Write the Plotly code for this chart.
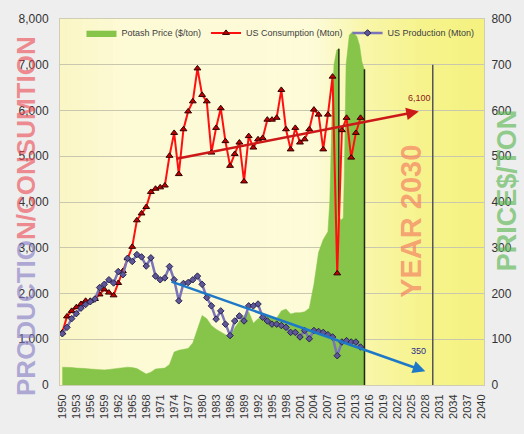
import plotly.graph_objects as go

# ---------------- data ----------------
years = list(range(1950, 2015))
consumption = [1150, 1500, 1620, 1700, 1770, 1840, 1840, 1880, 1980, 2090,
               2020, 1960, 2230, 2490, 2770, 3020, 3600, 3750, 3890, 4220,
               4290, 4320, 4360, 5010, 5510, 4610, 5590, 5980, 6200, 6920,
               6340, 6200, 5080, 5620, 6050, 5330, 4790, 5050, 5300, 4450,
               5440, 5190, 5370, 5400, 5800, 5800, 5840, 6450, 5590, 5150,
               5620, 5300, 5370, 5590, 6020, 5910, 5150, 5910, 6740, 2440,
               5570, 5840, 4970, 5510, 5840]
production = [1120, 1260, 1450, 1560, 1680, 1760, 1820, 1880, 2130, 2200,
              2300, 2230, 2480, 2410, 2770, 2700, 2850, 2800, 2600, 2780,
              2380, 2300, 2340, 2590, 2300, 1840, 2220, 2240, 2300, 2380,
              2200, 1910, 1730, 1440, 1620, 1330, 1080, 1400, 1510, 1400,
              1730, 1730, 1770, 1480, 1400, 1330, 1330, 1300, 1260, 1150,
              1150, 1050, 1190, 1010, 1190, 1170, 1150, 1100, 1050, 640,
              940, 970, 940, 940, 830]

price_years = list(range(1950, 2007)) + [2007, 2007.4, 2007.9, 2008.3, 2008.9, 2009.3,
                                         2009.35, 2009.8, 2010.3, 2010.5, 2010.9, 2011.6,
                                         2012.3, 2013.2, 2013.8, 2014.3, 2014.8, 2014.85]
price_values = [39, 39, 38, 37, 37, 36, 35, 34, 33, 33,
                34, 35, 36, 37, 39, 38, 36, 30, 24, 28,
                35, 36, 37, 45, 72, 76, 78, 80, 92, 120,
                152, 145, 130, 122, 116, 110, 106, 125, 140, 152,
                160, 135, 145, 148, 152, 147, 146, 162, 166, 155,
                158, 158, 160, 168, 220, 290, 318] + \
               [335, 400, 600, 700, 732, 735,
                370, 360, 365, 450, 700, 765,
                772, 762, 742, 706, 690, 0]

cons_trend_years = [1974.2, 2026.5]
cons_trend_values = [4940, 5980]
cons_trend_label = "6,100"
prod_trend_years = [1973.1, 2027.9]
prod_trend_values = [2270, 300]
prod_trend_label = "350"
horizon_year = 2029.5
horizon_top = 7000

x_ticks = list(range(1950, 2041, 3))
y_ticks = list(range(0, 8001, 1000))
price_ticks = list(range(0, 801, 100))

# ---------------- figure ----------------
fig = go.Figure()

# price on the base axis (drawn underneath), right side
fig.add_trace(go.Scatter(
    x=price_years, y=price_values, yaxis="y", name="Potash Price ($/ton)",
    mode="lines", fill="tozeroy", fillcolor="#86C44A",
    line=dict(color="#86C44A", width=0.5), showlegend=True))

# dark edges where the price area jumps almost vertically
ex, ey = [], []
for i in range(1, len(price_years)):
    if price_years[i] - price_years[i - 1] < 0.1 and abs(price_values[i] - price_values[i - 1]) > 300:
        ex += [price_years[i], price_years[i], None]
        ey += [min(price_values[i], price_values[i - 1]), max(price_values[i], price_values[i - 1]), None]
fig.add_trace(go.Scatter(x=ex, y=ey, yaxis="y", mode="lines",
                         line=dict(color="#1E2A12", width=1.5),
                         showlegend=False, hoverinfo="skip"))

fig.add_trace(go.Scatter(
    x=years, y=consumption, yaxis="y2", name="US Consumption (Mton)", mode="lines+markers",
    line=dict(color="#FF1010", width=2),
    marker=dict(symbol="triangle-up", size=6, color="#C00000",
                line=dict(color="#300000", width=1))))

fig.add_trace(go.Scatter(
    x=years, y=production, yaxis="y2", name="US Production (Mton)", mode="lines+markers",
    line=dict(color="#7A74B8", width=2.5),
    marker=dict(symbol="diamond", size=5, color="#5F5898",
                line=dict(color="#2A2550", width=1))))

fig.add_trace(go.Scatter(
    x=[horizon_year, horizon_year], y=[0, horizon_top], yaxis="y2", mode="lines",
    line=dict(color="#555555", width=1.5), showlegend=False, hoverinfo="skip"))

# gradient background strips
def lerp(c0, c1, t):
    return tuple(int(round(a + (b - a) * t)) for a, b in zip(c0, c1))

stops = [(0.0, (250, 246, 196)), (0.15, (253, 250, 214)), (0.6, (253, 251, 216)),
         (0.72, (249, 246, 170)), (0.86, (246, 243, 140)), (1.0, (245, 242, 128))]
shapes = []
n = 80
for k in range(n):
    t = (k + 0.5) / n
    for j in range(len(stops) - 1):
        if stops[j][0] <= t <= stops[j + 1][0]:
            f = (t - stops[j][0]) / (stops[j + 1][0] - stops[j][0])
            c = lerp(stops[j][1], stops[j + 1][1], f)
            break
    shapes.append(dict(type="rect", xref="paper", yref="paper",
                       x0=k / n, x1=(k + 1) / n + 0.002, y0=0, y1=1,
                       fillcolor="rgb(%d,%d,%d)" % c, line=dict(width=0), layer="below"))

title_font = "Liberation Sans, Arial, sans-serif"
annotations = [
    dict(x=cons_trend_years[1], y=cons_trend_values[1], ax=cons_trend_years[0], ay=cons_trend_values[0],
         xref="x", yref="y2", axref="x", ayref="y2", text="", showarrow=True,
         arrowhead=2, arrowsize=1, arrowwidth=2.5, arrowcolor="#CC1818"),
    dict(x=prod_trend_years[1], y=prod_trend_values[1], ax=prod_trend_years[0], ay=prod_trend_values[0],
         xref="x", yref="y2", axref="x", ayref="y2", text="", showarrow=True,
         arrowhead=2, arrowsize=1, arrowwidth=2.5, arrowcolor="#1E78C8"),
    dict(x=cons_trend_years[1] + 0.2, y=cons_trend_values[1] + 290, xref="x", yref="y2",
         text=cons_trend_label, showarrow=False, xanchor="center", yanchor="middle",
         font=dict(size=9, color="#8B1A1A", family=title_font)),
    dict(x=prod_trend_years[1] - 1.5, y=prod_trend_values[1] + 446, xref="x", yref="y2",
         text=prod_trend_label, showarrow=False, xanchor="center", yanchor="middle",
         font=dict(size=9, color="#2B2B8C", family=title_font)),
    dict(x=0.828, y=0.446, xref="paper", yref="paper", text="<b>YEAR 2030</b>", textangle=-90,
         xanchor="center", yanchor="middle",
         showarrow=False, font=dict(size=29, color="rgba(245,125,95,0.68)", family=title_font)),
    dict(x=-0.080, y=0.462, xref="paper", yref="paper", textangle=-90, showarrow=False,
         xanchor="center", yanchor="middle",
         text='<b><span style="color:rgba(130,120,195,0.6)">PRODUCTIO</span>'
              '<span style="color:rgba(235,70,80,0.6)">N/CONSUMTION</span></b>',
         font=dict(size=26, family=title_font)),
    dict(x=1.054, y=0.532, xref="paper", yref="paper", textangle=-90, showarrow=False,
         xanchor="center", yanchor="middle",
         text="<b>PRICE$/TON</b>",
         font=dict(size=27, color="rgba(95,185,90,0.68)", family=title_font)),
]

fig.update_layout(
    width=524, height=434,
    margin=dict(l=60, r=40, t=15, b=49),
    paper_bgcolor="#EEEEEE",
    plot_bgcolor="#FDFBD8",
    font=dict(family="Liberation Sans, Arial, sans-serif", color="#333333"),
    shapes=shapes,
    annotations=annotations,
    legend=dict(orientation="h", x=0.52, xanchor="center", y=0.962, yanchor="middle",
                bgcolor="rgba(0,0,0,0)", font=dict(size=9, color="#404040"),
                traceorder="normal"),
    xaxis=dict(range=[1949.5, 2040.5], tickvals=x_ticks, ticktext=[str(v) for v in x_ticks],
               tickangle=-90, tickfont=dict(size=11, color="#333333"), showgrid=False,
               zeroline=False, showline=True, linecolor="#CFCDB5", mirror=True,
               ticklabelstandoff=4),
    yaxis=dict(range=[0, 800], tickvals=price_ticks, tickprefix="$", side="right",
               showgrid=True, gridcolor="#C9C7AE", gridwidth=1, zeroline=False,
               showline=True, linecolor="#CFCDB5",
               tickfont=dict(size=12, color="#333333"), ticklabelstandoff=4),
    yaxis2=dict(range=[0, 8000], tickvals=y_ticks, tickformat=",d", overlaying="y", side="left",
                tickfont=dict(size=12, color="#333333"), showgrid=False,
                zeroline=False, showline=True, linecolor="#CFCDB5",
                ticklabelstandoff=8),
    showlegend=True,
)

fig.write_html("out.html")
